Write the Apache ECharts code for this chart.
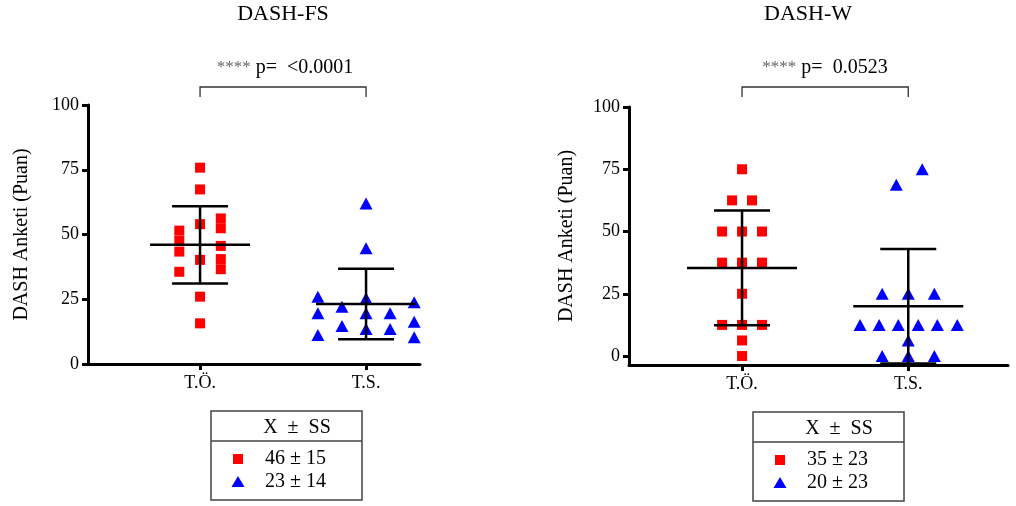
<!DOCTYPE html>
<html>
<head>
<meta charset="utf-8">
<script src="https://cdn.jsdelivr.net/npm/echarts@6/dist/echarts.min.js"></script>
<style>
  html, body { margin: 0; padding: 0; background: #fff; }
  #chart { width: 1016px; height: 506px; }
</style>
</head>
<body>
<div id="chart"></div>
<script>
"use strict";

// ── Datos ──────────────────────────────────────────────────────────────────
const GROUPS = ["T.Ö.", "T.S."];
const Y_TICKS = [0, 25, 50, 75, 100];

// DASH-FS: valores por punto y su desplazamiento horizontal (unidades de eje)
const fsToValues = [75.8, 67.4, 54, 40.2, 26, 15.7, 51.5, 47.6, 43.4, 35.6, 56.2, 52.4, 45.6, 40.5, 36.6];
const fsToJitter = [0, 0, 0, 0, 0, 0, -0.125, -0.125, -0.125, -0.125, 0.125, 0.125, 0.125, 0.125, 0.125];
const fsTsValues = [26, 19.6, 11.2, 22.1, 14.7, 62, 44.7, 25.4, 19.6, 13.5, 19.6, 13.5, 23.8, 16.3, 10.3];
const fsTsJitter = [-0.29, -0.29, -0.29, -0.145, -0.145, 0, 0, 0, 0, 0, 0.145, 0.145, 0.29, 0.29, 0.29];
const fsMean = [46, 23.2];
const fsSd   = [14.9, 13.6];

// DASH-W
const wToValues = [75, 50, 37.5, 25, 12.5, 6.25, 0, 62.5, 62.5, 50, 37.5, 12.5, 50, 37.5, 12.5];
const wToJitter = [0, 0, 0, 0, 0, 0, 0, -0.06, 0.06, -0.12, -0.12, -0.12, 0.12, 0.12, 0.12];
const wTsValues = [12.5, 12.5, 12.5, 12.5, 12.5, 12.5, 25, 25, 25, 0, 0, 0, 6.25, 68.75, 75];
const wTsJitter = [-0.29, -0.175, -0.06, 0.06, 0.175, 0.295, -0.157, 0, 0.157, -0.157, 0, 0.157, 0, -0.072, 0.084];
const wMean = [35.4, 20];
const wSd   = [23, 23];

const legendFS = ["46 ± 15", "23 ± 14"];
const legendW  = ["35 ± 23", "20 ± 23"];
const pFS = "<0.0001";
const pW  = "0.0523";

// ── Estilos ────────────────────────────────────────────────────────────────
const FONT = "'Liberation Serif', 'DejaVu Serif', serif";
const RED = "#ff0000", BLUE = "#0000ff";

function pts(values, jitter, group) {
  return values.map((v, i) => [group + jitter[i], v]);
}

function xAxisCfg(gi, min, max) {
  return {
    gridIndex: gi, type: "value", min, max,
    splitLine: { show: false },
    axisLine: { onZero: false, lineStyle: { color: "#000", width: 3 } },
    axisTick: { customValues: [1, 2], length: 6, lineStyle: { color: "#000", width: 3 } },
    axisLabel: {
      customValues: [1, 2], margin: 10,
      fontFamily: FONT, fontSize: 18, color: "#000",
      formatter: v => GROUPS[Math.round(v) - 1],
    },
  };
}

function yAxisCfg(gi, min, gap) {
  return {
    gridIndex: gi, type: "value", min, max: 100,
    name: "DASH Anketi (Puan)", nameLocation: "middle", nameGap: gap,
    nameTextStyle: { fontFamily: FONT, fontSize: 20, color: "#000" },
    splitLine: { show: false },
    axisLine: { show: true, onZero: false, lineStyle: { color: "#000", width: 3 } },
    axisTick: { customValues: Y_TICKS, length: 6, lineStyle: { color: "#000", width: 3 } },
    axisLabel: { customValues: Y_TICKS, margin: 9, fontFamily: FONT, fontSize: 18, color: "#000" },
  };
}

function errBars(gi, means, sds, halfW) {
  return {
    type: "custom", xAxisIndex: gi, yAxisIndex: gi, clip: false, z: 5,
    data: means.map((m, i) => [i + 1, m, sds[i]]),
    renderItem(params, api) {
      const x = api.value(0), m = api.value(1), s = api.value(2);
      const c = api.coord([x, m]), t = api.coord([x, m + s]), b = api.coord([x, m - s]);
      const st = { stroke: "#000", lineWidth: 2.5 };
      const ln = (x1, y1, x2, y2) => ({ type: "line", shape: { x1, y1, x2, y2 }, style: st });
      return {
        type: "group",
        children: [
          ln(c[0] - halfW, c[1], c[0] + halfW, c[1]),
          ln(c[0], t[1], c[0], b[1]),
          ln(c[0] - 28, t[1], c[0] + 28, t[1]),
          ln(c[0] - 28, b[1], c[0] + 28, b[1]),
        ],
      };
    },
  };
}

function scatter(gi, data, symbol, color, size) {
  return {
    type: "scatter", xAxisIndex: gi, yAxisIndex: gi, data, symbol, symbolSize: size,
    itemStyle: { color, opacity: 1 }, z: 3, silent: true,
  };
}

const el = document.getElementById("chart");
const chart = echarts.init(el, null, { renderer: "canvas" });

chart.setOption({
  animation: false,
  grid: [
    { left: 88, right: 596, top: 105, bottom: 142 },
    { left: 629, right: 8, top: 107, bottom: 141 },
  ],
  xAxis: [xAxisCfg(0, 0.325, 2.325), xAxisCfg(1, 0.32, 2.6)],
  yAxis: [yAxisCfg(0, 0, 56), yAxisCfg(1, -3.6, 52)],
  series: [
    scatter(0, pts(fsToValues, fsToJitter, 1), "rect", RED, 10),
    scatter(0, pts(fsTsValues, fsTsJitter, 2), "triangle", BLUE, [13, 12]),
    scatter(1, pts(wToValues, wToJitter, 1), "rect", RED, 10),
    scatter(1, pts(wTsValues, wTsJitter, 2), "triangle", BLUE, [13, 12]),
    errBars(0, fsMean, fsSd, 50),
    errBars(1, wMean, wSd, 55),
  ],
});

// ── Anotaciones: títulos, corchetes de p y cuadros de leyenda ─────────────
function txt(x, y, text, size, extra) {
  return {
    type: "text", x, y,
    style: Object.assign({ text, fontFamily: FONT, fontSize: size, fill: "#000", align: "center", verticalAlign: "middle" }, extra || {}),
  };
}

function bracket(gi, pText, cx) {
  const a = chart.convertToPixel({ gridIndex: gi }, [1, 100]);
  const b = chart.convertToPixel({ gridIndex: gi }, [2, 100]);
  const st = { stroke: "#333", lineWidth: 1.3 };
  return [
    { type: "polyline", shape: { points: [[a[0], 97], [a[0], 87], [b[0], 87], [b[0], 97]] }, style: Object.assign({ fill: null }, st) },
    {
      type: "text", x: cx, y: 68,
      style: {
        text: "{s|****} p=  " + pText,
        rich: { s: { fontFamily: FONT, fontSize: 17, fill: "#666" } },
        fontFamily: FONT, fontSize: 20, fill: "#000", align: "center", verticalAlign: "middle",
      },
    },
  ];
}

function legendBox(x0, y0, rows) {
  const w = 151, h = 89, mx = 27;
  return [
    { type: "rect", shape: { x: x0, y: y0, width: w, height: h }, style: { fill: null, stroke: "#444", lineWidth: 1.5 } },
    { type: "line", shape: { x1: x0, y1: y0 + 30, x2: x0 + w, y2: y0 + 30 }, style: { stroke: "#444", lineWidth: 1.5 } },
    txt(x0 + 86, y0 + 17, "X  ±  SS", 20),
    { type: "rect", shape: { x: x0 + mx - 5, y: y0 + 43, width: 10, height: 10 }, style: { fill: RED } },
    { type: "polygon", shape: { points: [[x0 + mx, y0 + 65], [x0 + mx + 6.5, y0 + 76], [x0 + mx - 6.5, y0 + 76]] }, style: { fill: BLUE } },
    txt(x0 + 54, y0 + 48, rows[0], 20, { align: "left" }),
    txt(x0 + 54, y0 + 71, rows[1], 20, { align: "left" }),
  ];
}

chart.setOption({
  graphic: [
    txt(283, 14, "DASH-FS", 22),
    txt(808, 14, "DASH-W", 22),
    ...bracket(0, pFS, 285),
    ...bracket(1, pW, 825),
    ...legendBox(211, 411, legendFS),
    ...legendBox(753, 412, legendW),
  ],
});

window.addEventListener("resize", () => chart.resize());
</script>
</body>
</html>
